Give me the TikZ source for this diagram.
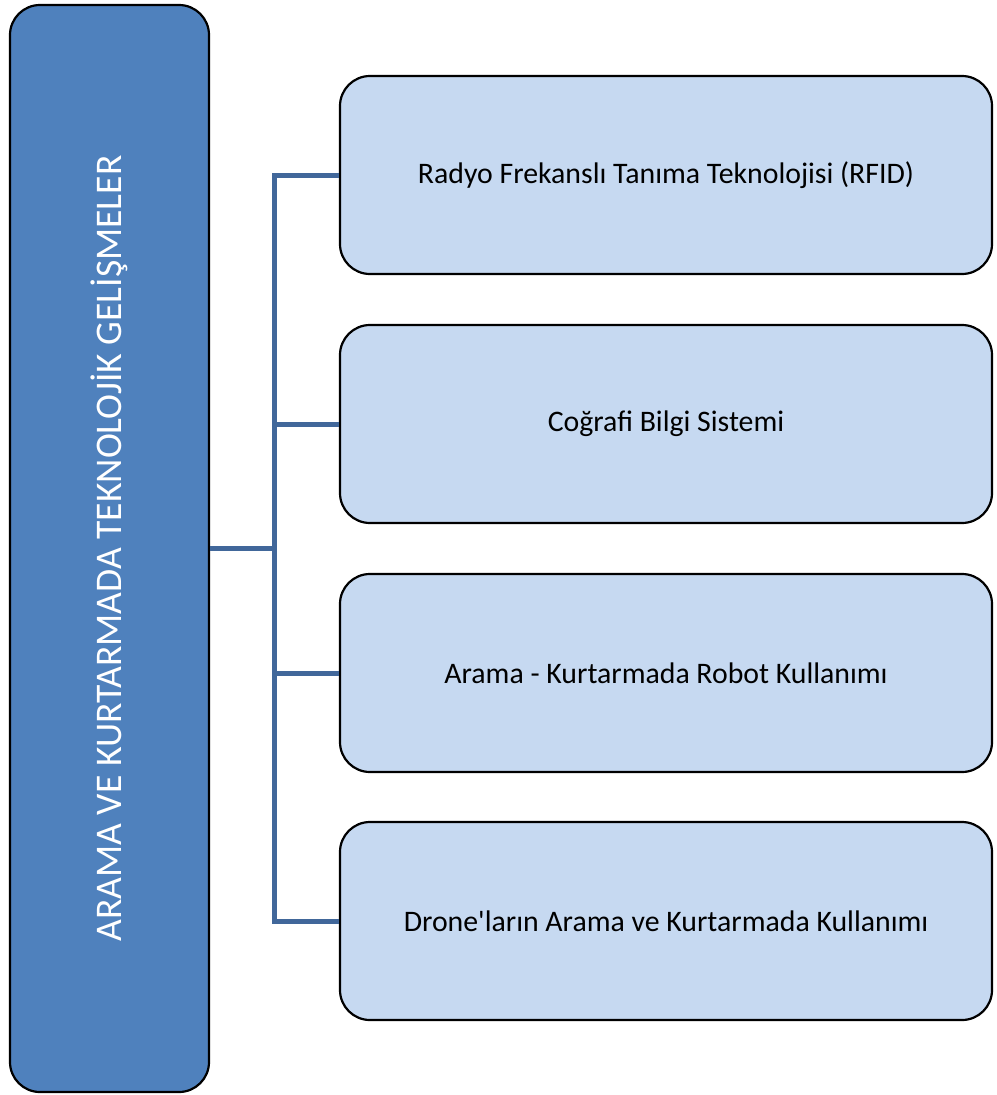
\documentclass[tikz,border=0pt]{standalone}
\usepackage{fontspec}
\setmainfont{Carlito}[Ligatures=TeXOff]
\definecolor{mainblue}{HTML}{4F81BD}
\definecolor{lightblue}{HTML}{C6D9F1}
\definecolor{linkblue}{HTML}{41679A}
\begin{document}
\begin{tikzpicture}[x=1pt,y=-1pt,
  rootbox/.style={draw=black, line width=2.2pt, fill=mainblue, rounded corners=30pt,
    minimum width=199pt, minimum height=1087pt, inner sep=0pt},
  itembox/.style={draw=black, line width=2.2pt, fill=lightblue, rounded corners=30pt,
    minimum width=652pt, minimum height=198pt, inner sep=0pt,
    font=\fontsize{29.8}{34}\selectfont},
  link/.style={draw=linkblue, line width=5pt}]
\useasboundingbox (0,0) rectangle (996,1095);
\node[rootbox] (root) at (109.5,548.5) {};
\node[rotate=90, text=white, font=\fontsize{37.6}{44}\selectfont] (roottext) at (root.center) {ARAMA VE KURTARMADA TEKNOLOJİK GELİŞMELER};
\node[itembox] (a) at (666,175) {Radyo Frekanslı Tanıma Teknolojisi (RFID)};
\node[itembox] (b) at (666,424) {Coğrafi Bilgi Sistemi};
\node[itembox] (c) at (666,673) {Arama - Kurtarmada Robot Kullanımı};
\node[itembox] (d) at (666,921) {Drone'ların Arama ve Kurtarmada Kullanımı};
\coordinate (hub) at (274,548);
\draw[link] (root.east |- hub) -- (hub);
\draw[link] (a.west) -| (hub |- a.west) -- (hub |- d.west) -- (d.west);
\draw[link] (b.west) -- (hub |- b.west);
\draw[link] (c.west) -- (hub |- c.west);
\end{tikzpicture}
\end{document}
